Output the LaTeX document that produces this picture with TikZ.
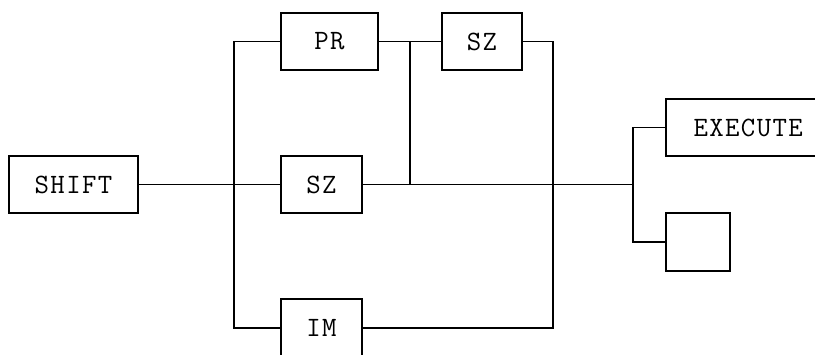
\documentclass[tikz,border=0pt]{standalone}
\usepackage{fontspec}
\setmonofont{Latin Modern Mono}[LetterSpace=5]
\begin{document}
\begin{tikzpicture}[x=1pt,y=-1pt,
  blk/.style={draw,line width=1.6pt,inner sep=0pt,font=\ttfamily\fontsize{28}{30}\selectfont},
  wire/.style={line width=1.6pt}]
\useasboundingbox (0,0) rectangle (815,354);
\node[blk,minimum width=129pt,minimum height=57pt] (shift) at (73.5,184.5) {SHIFT};
\node[blk,minimum width=97pt,minimum height=57pt] (pr) at (329.5,41.5) {PR};
\node[blk,minimum width=80pt,minimum height=57pt] (sza) at (482,41.5) {SZ};
\node[blk,minimum width=81pt,minimum height=57pt] (szb) at (321.5,184.5) {SZ};
\node[blk,minimum width=81pt,minimum height=58pt] (im) at (321.5,328) {IM};
\node[blk,minimum width=152pt,minimum height=57pt,text width=147pt,align=left] (exec) at (742,127.5) {\hspace*{25pt}EXECUTE};
\node[blk,minimum width=64pt,minimum height=58pt] (empty) at (698,242) {};
\coordinate (bt) at (234,41.5);
\coordinate (bb) at (234,328);
\coordinate (ja) at (410,41.5);
\coordinate (jb) at (410,184.5);
\coordinate (rt) at (553,41.5);
\coordinate (rb) at (553,328);
\coordinate (sp) at (633,184.5);
\coordinate (st) at (633,127.5);
\coordinate (sb) at (633,242);
\draw[wire] (shift.east) -- (szb.west);
\draw[wire] (pr.west) -- (bt) -- (bb) -- (im.west);
\draw[wire] (pr.east) -- (sza.west);
\draw[wire] (ja) -- (jb);
\draw[wire] (sza.east) -- (rt) -- (rb) -- (im.east);
\draw[wire] (szb.east) -- (sp);
\draw[wire] (exec.west) -- (st) -- (sb) -- (empty.west);
\end{tikzpicture}
\end{document}
